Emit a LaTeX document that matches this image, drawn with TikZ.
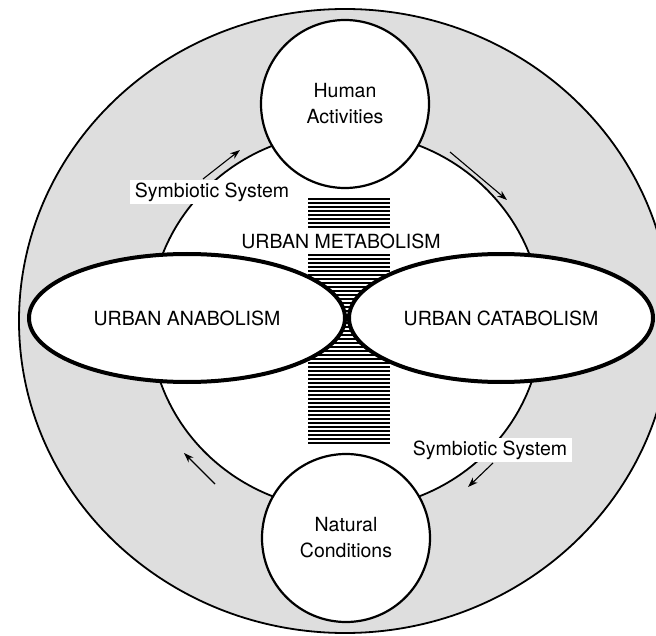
\documentclass[tikz,border=0pt]{standalone}
\usepackage{fontspec}
\setmainfont{TeX Gyre Heros}
\usetikzlibrary{shapes.geometric,arrows.meta}

\tikzset{
  lbl/.style={font=\fontsize{19.5}{26}\selectfont, align=center},
  hub/.style={circle, draw, fill=white, line width=2.2pt, minimum size=168pt, inner sep=0pt},
  lobe/.style={ellipse, draw, fill=white, line width=4pt, minimum height=128pt, inner sep=0pt},
  tag/.style={lbl, fill=white, inner xsep=5pt, inner ysep=3pt},
  flow/.style={-{Stealth[length=10pt,width=7pt]}, line width=1.1pt}
}

\begin{document}
\begin{tikzpicture}[x=1pt,y=-1pt]
    \useasboundingbox (0,0) rectangle (656,636);
    \clip (0,0) rectangle (656,636);

    \fill[black!13] (345,321) ellipse [x radius=326pt, y radius=312pt];
    \draw[line width=1.8pt] (345,321) ellipse [x radius=326pt, y radius=312pt];
    \fill[white] (346,321) ellipse [x radius=196pt, y radius=189pt];
    \draw[line width=1.8pt] (346,321) ellipse [x radius=196pt, y radius=189pt];

    \foreach \y in {199,203,...,443}
        \draw[line width=2pt] (308,\y) -- (390,\y);

    \node[lbl, fill=white, inner sep=0pt, minimum height=23pt] (metab) at (341,241) {URBAN METABOLISM};

    \node[hub, lbl] (human) at (345,104) {Human\\Activities};
    \node[hub, lbl] (nature) at (346,538) {Natural\\Conditions};

    \node[lobe, lbl, minimum width=316pt] (ana) at (187,318) {URBAN ANABOLISM};
    \node[lobe, lbl, minimum width=304pt] (cata) at (501,318) {URBAN CATABOLISM};

    \node[tag] (symUp) at (212,192) {Symbiotic System};
    \node[tag] (symDown) at (490,450) {Symbiotic System};

    \coordinate (ulTail) at (203,179);
    \coordinate (ulHead) at (240,150);
    \coordinate (urTail) at (450,152);
    \coordinate (urHead) at (507,200);
    \coordinate (lrTail) at (493,463);
    \coordinate (lrHead) at (468,487);
    \coordinate (llTail) at (215,484);
    \coordinate (llHead) at (184,453);

    \draw[flow] (ulTail) -- (ulHead);
    \draw[flow] (urTail) -- (urHead);
    \draw[flow] (lrTail) -- (lrHead);
    \draw[flow] (llTail) -- (llHead);

\end{tikzpicture}
\end{document}
